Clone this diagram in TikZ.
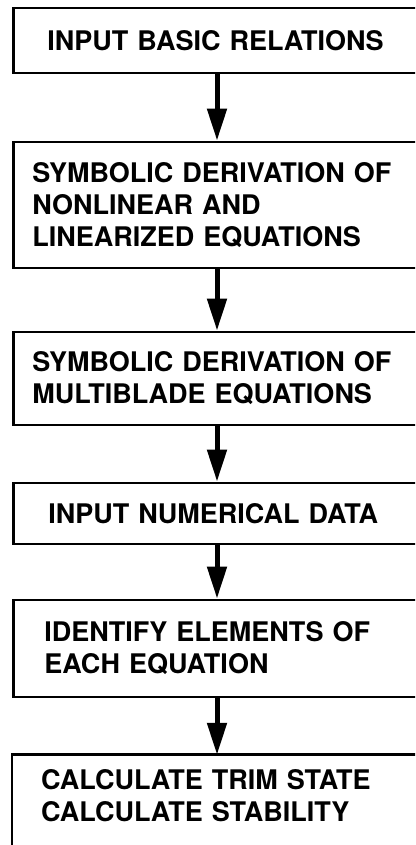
\documentclass[tikz,border=0pt]{standalone}
\usepackage{fontspec}
\setmainfont{TeX Gyre Heros}
\usetikzlibrary{arrows.meta}

\tikzset{
  boxtext/.style={anchor=west, text width=380pt, align=left, inner ysep=0pt,
    font=\bfseries\fontsize{27}{32}\selectfont},
  stepbox/.style={boxtext, draw, line width=2.8pt},
  frameline/.style={line width=2.8pt},
  flow/.style={line width=5pt, -{Triangle[length=32pt, width=19pt]}},
}

\begin{document}
\begin{tikzpicture}[x=1pt, y=-1pt]
    \useasboundingbox (0,0) rectangle (415,845);
    \clip (0,0) rectangle (415,845);
    \node[stepbox, minimum height=65pt, inner xsep=34pt] (basic) at (12,40.5) {INPUT BASIC RELATIONS};
    \node[stepbox, minimum height=126pt, inner xsep=19pt] (deriv) at (12,205)
      {SYMBOLIC DERIVATION OF\\NONLINEAR AND\\LINEARIZED EQUATIONS};
    \node[stepbox, minimum height=93pt, inner xsep=19pt] (multi) at (12,378.5)
      {SYMBOLIC DERIVATION OF\\MULTIBLADE EQUATIONS};
    \node[stepbox, minimum height=61pt, inner xsep=35pt] (data) at (12,513.5) {INPUT NUMERICAL DATA};
    \node[stepbox, minimum height=97pt, inner xsep=31pt] (ident) at (12,648.5)
      {IDENTIFY ELEMENTS OF\\EACH EQUATION};
    \node[boxtext, minimum height=82pt, inner xsep=29pt] (calc) at (12,796)
      {CALCULATE TRIM STATE\\CALCULATE STABILITY};
    % last box runs off the page
    \draw[frameline] (calc.north west) ++(0,110) -- (calc.north west)
      -- (calc.north east) -- ++(0,110);
    \draw[flow] (basic.south -| 217,0) -- (deriv.north -| 217,0);
    \draw[flow] (deriv.south -| 217,0) -- (multi.north -| 217,0);
    \draw[flow] (multi.south -| 217,0) -- (data.north -| 217,0);
    \draw[flow] (data.south -| 217,0) -- (ident.north -| 217,0);
    \draw[flow] (ident.south -| 217,0) -- (calc.north -| 217,0);
\end{tikzpicture}
\end{document}
